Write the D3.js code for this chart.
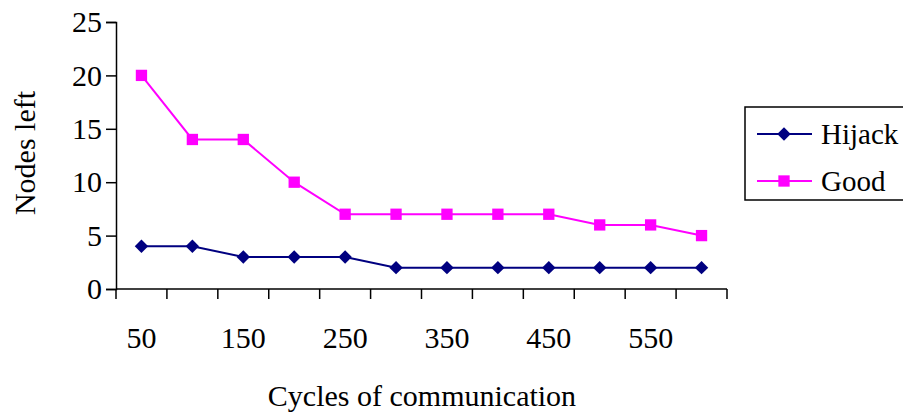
<!DOCTYPE html>
<html>
<head>
<meta charset="utf-8">
<script src="https://cdn.jsdelivr.net/npm/d3@7"></script>
<style>
  html, body { margin: 0; padding: 0; background: #fff; }
  svg { display: block; font-family: "Liberation Serif", "Times New Roman", serif; }
</style>
</head>
<body>
<svg id="chart" width="903" height="418"></svg>
<script>
// Cycles of communication (category axis) and the nodes left per series
const cycles = [50, 100, 150, 200, 250, 300, 350, 400, 450, 500, 550, 600];
const hijack = [4, 4, 3, 3, 3, 2, 2, 2, 2, 2, 2, 2];
const good = [20, 14, 14, 10, 7, 7, 7, 7, 7, 6, 6, 5];
const yTicks = [0, 5, 10, 15, 20, 25];
const xLabels = [50, 150, 250, 350, 450, 550];

const series = [
  { name: "Hijack", values: hijack, color: "#000080", marker: d3.symbolDiamond2, size: 115 },
  { name: "Good", values: good, color: "#ff00ff", marker: d3.symbolSquare, size: 128 }
];

const svg = d3.select("#chart");
const plot = { left: 116, right: 727, top: 22, bottom: 289 };
const serif = "Liberation Serif, Times New Roman, serif";

const x = d3.scaleBand().domain(cycles).range([plot.left, plot.right]).padding(0);
const y = d3.scaleLinear().domain([0, 25]).range([plot.bottom, plot.top]);
const cx = d => x(d) + x.bandwidth() / 2;

// Y axis
const yAxis = svg.append("g")
  .attr("transform", `translate(${plot.left},0)`)
  .call(d3.axisLeft(y).tickValues(yTicks).tickSize(10).tickPadding(4));
yAxis.select(".domain").attr("stroke", "#000").attr("stroke-width", 1.5);
yAxis.selectAll(".tick line").attr("stroke", "#000").attr("stroke-width", 1.5);
yAxis.selectAll(".tick text").attr("font-size", 30).attr("fill", "#000")
  .attr("font-family", serif).attr("dy", "0.32em");

// X axis: tick marks between categories, labels at every other category
const xAxisG = svg.append("g").attr("transform", `translate(0,${plot.bottom})`);
xAxisG.append("line")
  .attr("x1", plot.left).attr("x2", plot.right)
  .attr("stroke", "#000").attr("stroke-width", 1.5);
const boundaries = cycles.map(c => x(c)).concat([x(cycles[cycles.length - 1]) + x.bandwidth()]);
xAxisG.selectAll("line.tick").data(boundaries).join("line")
  .attr("class", "tick")
  .attr("x1", d => d).attr("x2", d => d)
  .attr("y1", 0).attr("y2", 10)
  .attr("stroke", "#000").attr("stroke-width", 1.5);
xAxisG.selectAll("text.lbl").data(xLabels).join("text")
  .attr("class", "lbl")
  .attr("x", d => cx(d)).attr("y", 59)
  .attr("text-anchor", "middle")
  .attr("font-size", 30)
  .text(d => d);

// Axis titles
svg.append("text")
  .attr("x", 422).attr("y", 406)
  .attr("text-anchor", "middle")
  .attr("font-size", 30)
  .text("Cycles of communication");
svg.append("text")
  .attr("transform", "translate(35,153) rotate(-90)")
  .attr("text-anchor", "middle")
  .attr("font-size", 30)
  .text("Nodes left");

// Series lines and markers
const line = d3.line().x((d, i) => cx(cycles[i])).y(d => y(d));
series.forEach(s => {
  svg.append("path")
    .attr("d", line(s.values))
    .attr("fill", "none")
    .attr("stroke", s.color)
    .attr("stroke-width", 2);
  svg.append("g").selectAll("path").data(s.values).join("path")
    .attr("transform", (d, i) => `translate(${cx(cycles[i])},${y(d)})`)
    .attr("d", d3.symbol().type(s.marker).size(s.size))
    .attr("fill", s.color);
});

// Legend
const legend = svg.append("g");
legend.append("rect")
  .attr("x", 745).attr("y", 107).attr("width", 170).attr("height", 93)
  .attr("fill", "#fff").attr("stroke", "#000").attr("stroke-width", 1.5);
series.forEach((s, i) => {
  const ly = 134 + i * 47;
  legend.append("line")
    .attr("x1", 757).attr("x2", 812).attr("y1", ly).attr("y2", ly)
    .attr("stroke", s.color).attr("stroke-width", 2);
  legend.append("path")
    .attr("transform", `translate(784,${ly})`)
    .attr("d", d3.symbol().type(s.marker).size(s.size))
    .attr("fill", s.color);
  legend.append("text")
    .attr("x", 821).attr("y", ly + 10)
    .attr("font-size", 29)
    .text(s.name);
});
</script>
</body>
</html>
